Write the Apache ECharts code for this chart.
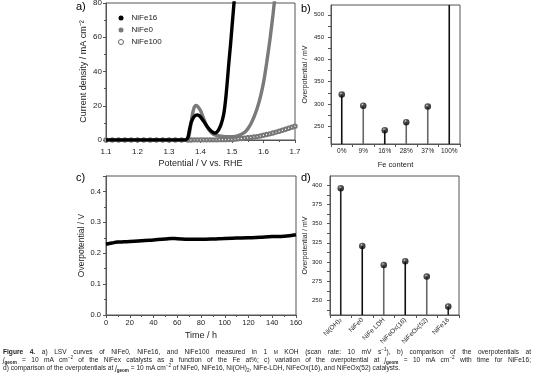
<!DOCTYPE html>
<html><head><meta charset="utf-8">
<script src="https://cdn.jsdelivr.net/npm/echarts@6/dist/echarts.min.js"></script>
<style>
html,body{margin:0;padding:0;background:#fff;}
#chart{position:absolute;left:0;top:0;width:536px;height:389px;}
.cap{position:absolute;left:3px;width:528px;font-family:'Liberation Sans',Arial,sans-serif;font-size:6.6px;line-height:7px;color:#222;white-space:nowrap;}
.j{text-align:justify;text-align-last:justify;white-space:normal;}
.cap sub,.cap sup{font-size:70%;line-height:0;}
</style></head><body>
<div id="chart"></div>
<div class="cap j" style="top:348px"><b>Figure 4.</b> a) LSV curves of NiFe0, NiFe16, and NiFe100 measured in 1 <span style="font-size:75%">M</span> KOH (scan rate: 10 mV s<sup>−1</sup>), b) comparison of the overpotentials at</div>
<div class="cap j" style="top:356px"><i>j</i><sub><b>geom</b></sub> = 10 mA cm<sup>−2</sup> of the NiFex catalysts as a function of the Fe at%; c) variation of the overpotential at <i>j</i><sub><b>geom</b></sub> = 10 mA cm<sup>−2</sup> with time for NiFe16;</div>
<div class="cap" style="top:364px">d) comparison of the overpotentials at <i>j</i><sub><b>geom</b></sub> = 10 mA cm<sup>−2</sup> of NiFe0, NiFe16, Ni(OH)<sub>2</sub>, NiFe-LDH, NiFeOx(16), and NiFeOx(52) catalysts.</div>
<script>
// ---- Panel a: LSV curves [potential V, current density mA cm-2]
const lsvNiFe16 = [[1.10,0],[1.20,0],[1.30,0],[1.35,0],[1.355,0.3],[1.36,1.5],[1.365,6],[1.37,10],[1.375,12.3],[1.38,13.7],[1.385,14.4],[1.39,14.6],[1.395,14.3],[1.40,13.5],[1.41,11],[1.42,8.2],[1.43,5.9],[1.44,4.4],[1.445,4.1],[1.45,4.3],[1.455,5.2],[1.46,6.8],[1.465,9],[1.47,12],[1.475,16.5],[1.48,24],[1.485,34],[1.49,45],[1.495,55],[1.50,66],[1.505,77],[1.51,88]];
const lsvNiFe0 = [[1.10,0],[1.20,0],[1.30,0],[1.35,0],[1.36,0.5],[1.365,4],[1.37,10],[1.375,15.5],[1.38,19],[1.385,20.2],[1.39,19.8],[1.40,17.2],[1.41,12.5],[1.42,8],[1.43,5.2],[1.44,3.5],[1.45,2.7],[1.46,2.3],[1.48,2.0],[1.50,2.0],[1.52,2.6],[1.54,4.5],[1.55,6.5],[1.56,9.5],[1.57,13.5],[1.58,18.5],[1.59,25],[1.60,33.5],[1.61,45],[1.62,58],[1.63,73],[1.64,90]];
const lsvNiFe100 = [[1.10,0],[1.12,0],[1.14,0],[1.16,0],[1.18,0],[1.20,0],[1.22,0],[1.24,0],[1.26,0],[1.28,0],[1.30,0],[1.32,0],[1.34,0],[1.36,0],[1.37,0],[1.38,0.1],[1.39,0.1],[1.40,0.1],[1.41,0.1],[1.42,0.1],[1.43,0.1],[1.44,0.1],[1.45,0.1],[1.46,0.2],[1.47,0.2],[1.48,0.2],[1.49,0.3],[1.50,0.3],[1.51,0.5],[1.52,0.7],[1.53,0.9],[1.54,1.1],[1.55,1.3],[1.56,1.5],[1.57,1.8],[1.58,2.0],[1.59,2.4],[1.60,2.8],[1.61,3.2],[1.62,3.6],[1.63,4.1],[1.64,4.6],[1.65,5.1],[1.66,5.7],[1.67,6.3],[1.68,6.9],[1.69,7.5],[1.70,8.1]];
const lsvNames = ['NiFe16','NiFe0','NiFe100'];

// ---- Panel b: overpotential vs Fe content
const feContent = ['0%','9%','16%','28%','37%','100%'];
const etaFe = [321,296,241,259,294,560];
const etaFeTicks = [250,300,350,400,450,500];

// ---- Panel c: overpotential vs time
const timeH = [0,5,10,15,20,30,40,50,55,60,70,80,90,100,110,120,130,140,150,160];
const etaTime = [0.229,0.233,0.236,0.237,0.238,0.240,0.243,0.246,0.248,0.247,0.245,0.245,0.246,0.248,0.249,0.250,0.252,0.254,0.255,0.260];

// ---- Panel d: overpotential of catalysts
const catalysts = ['Ni(OH)2','NiFe0','NiFe LDH','NiFeOx(16)','NiFeOx(52)','NiFe16'];
const etaCat = [396,321,296,301,281,242];
const etaCatTicks = [250,275,300,325,350,375,400];

const stemColorsB = ['#111','#666','#111','#666','#666','#111'];
const stemColorsD = ['#222','#111','#666','#111','#666','#222'];

const FONT = "'Liberation Sans', Arial, sans-serif";
const TXT = '#222';
const AX = '#555';

function ball(){ return {type:'radial',x:0.38,y:0.32,r:0.7,colorStops:[{offset:0,color:'#e8e8e8'},{offset:0.22,color:'#444'},{offset:0.6,color:'#111'},{offset:1,color:'#000'}]}; }

function axisBase(fs){
  return {
    axisLine:{show:true,onZero:false,lineStyle:{color:AX,width:1}},
    axisTick:{show:true,length:3,lineStyle:{color:AX}},
    splitLine:{show:false},
    axisLabel:{color:TXT,fontFamily:FONT,fontSize:fs},
    nameTextStyle:{color:TXT,fontFamily:FONT}
  };
}

const chart = echarts.init(document.getElementById('chart'), null, {renderer:'canvas'});

const grids = [
  {left:106,top:3,width:189,height:137},
  {left:331,top:5,width:129,height:139},
  {left:106,top:176,width:190,height:139},
  {left:330,top:176,width:129,height:139}
].map(g=>Object.assign({show:true,borderColor:AX,borderWidth:1,backgroundColor:'transparent',outerBoundsMode:'none'},g));

const xa = Object.assign(axisBase(8),{
  gridIndex:0,type:'value',min:1.1,max:1.7,interval:0.1,
  name:'Potential / V vs. RHE',nameLocation:'middle',nameGap:19,
  minorTick:{show:true,splitNumber:2,length:2,lineStyle:{color:AX}}
});
xa.axisLabel.formatter = v=>v.toFixed(1); xa.axisLabel.margin=8; xa.nameTextStyle.fontSize=9;
const ya = Object.assign(axisBase(8),{
  gridIndex:0,type:'value',min:0,max:80,interval:20,
  name:'Current density / mA cm⁻²',nameLocation:'middle',nameGap:18,
  minorTick:{show:true,splitNumber:2,length:2,lineStyle:{color:AX}}
});
ya.axisLabel.margin=4; ya.nameTextStyle.fontSize=9;

const xb = Object.assign(axisBase(6.5),{
  gridIndex:1,type:'category',data:feContent,boundaryGap:true,
  name:'Fe content',nameLocation:'middle',nameGap:17
});
xb.axisLabel.margin=4; xb.axisLabel.interval=0; xb.nameTextStyle.fontSize=7.5;
const yb = Object.assign(axisBase(6),{
  gridIndex:1,type:'value',min:210,max:522,
  name:'Overpotential / mV',nameLocation:'middle',nameGap:22
});
yb.axisLabel.customValues = etaFeTicks; yb.axisLabel.margin=7;
yb.axisTick.customValues = [225,250,275,300,325,350,375,400,425,450,475,500];
yb.nameTextStyle.fontSize=7;

const xc = Object.assign(axisBase(7.5),{
  gridIndex:2,type:'value',min:0,max:160,interval:20,
  name:'Time / h',nameLocation:'middle',nameGap:16,
  minorTick:{show:true,splitNumber:2,length:2,lineStyle:{color:AX}}
});
xc.axisLabel.margin=4; xc.nameTextStyle.fontSize=9;
const yc = Object.assign(axisBase(7.5),{
  gridIndex:2,type:'value',min:0,max:0.45,interval:0.1,
  name:'Overpotential / V',nameLocation:'middle',nameGap:20,
  minorTick:{show:true,splitNumber:2,length:2,lineStyle:{color:AX}}
});
yc.axisLabel.formatter = v=>v.toFixed(1); yc.axisLabel.margin=5; yc.axisLabel.showMaxLabel=false; yc.nameTextStyle.fontSize=8.5;

const xd = Object.assign(axisBase(6.5),{
  gridIndex:3,type:'category',data:catalysts,boundaryGap:true
});
xd.axisLabel.rotate=45; xd.axisLabel.margin=4; xd.axisLabel.interval=0;
xd.axisLabel.formatter = v=> v==='Ni(OH)2' ? 'Ni(OH){s|2}' : v;
xd.axisLabel.rich = {s:{fontSize:4.5,fontFamily:FONT,color:TXT,verticalAlign:'bottom'}};
const yd = Object.assign(axisBase(6),{
  gridIndex:3,type:'value',min:231,max:412,
  name:'Overpotential / mV',nameLocation:'middle',nameGap:21.5
});
yd.axisLabel.customValues = etaCatTicks; yd.axisLabel.margin=8;
yd.axisTick.customValues = [237.5,250,262.5,275,287.5,300,312.5,325,337.5,350,362.5,375,387.5,400];
yd.nameTextStyle.fontSize=7;

const option = {
  animation:false,
  backgroundColor:'#fff',
  textStyle:{fontFamily:FONT},
  grid:grids,
  xAxis:[xa,xb,xc,xd],
  yAxis:[ya,yb,yc,yd],
  legend:{
    data:[{name:'NiFe16',icon:'circle'},{name:'NiFe0',icon:'circle'},
          {name:'NiFe100',icon:'circle',itemStyle:{color:'#fff',borderColor:'#666',borderWidth:1}}],
    orient:'vertical',left:113,top:9,itemWidth:5,itemHeight:5,itemGap:4,
    textStyle:{fontSize:8,fontFamily:FONT,color:TXT,padding:[0,0,0,3]}
  },
  graphic:[
    {type:'text',left:76,top:1,style:{text:'a)',fontSize:11,fontFamily:FONT,fill:'#000'}},
    {type:'text',left:301,top:3,style:{text:'b)',fontSize:11,fontFamily:FONT,fill:'#000'}},
    {type:'text',left:76,top:172,style:{text:'c)',fontSize:11,fontFamily:FONT,fill:'#000'}},
    {type:'text',left:301,top:172,style:{text:'d)',fontSize:11,fontFamily:FONT,fill:'#000'}}
  ],
  series:[
    {name:lsvNames[1],type:'line',xAxisIndex:0,yAxisIndex:0,data:lsvNiFe0,smooth:0.3,showSymbol:false,z:2,
      lineStyle:{color:'#7a7a7a',width:3.4},itemStyle:{color:'#7a7a7a'},clip:true},
    {name:lsvNames[2],type:'line',xAxisIndex:0,yAxisIndex:0,data:lsvNiFe100,symbol:'emptyCircle',symbolSize:3.4,showSymbol:true,showAllSymbol:true,z:3,
      lineStyle:{width:0,opacity:0},itemStyle:{color:'#777',borderWidth:0.9},clip:true},
    {name:lsvNames[0],type:'line',xAxisIndex:0,yAxisIndex:0,data:lsvNiFe16,smooth:0.3,showSymbol:false,z:4,
      lineStyle:{color:'#000',width:3.4},itemStyle:{color:'#000'},clip:true},

    {type:'bar',xAxisIndex:1,yAxisIndex:1,barWidth:1.6,clip:true,
      data:etaFe.map((v,i)=>({value:v,itemStyle:{color:stemColorsB[i]}}))},
    {type:'scatter',xAxisIndex:1,yAxisIndex:1,data:etaFe,symbolSize:6.5,clip:true,z:5,
      itemStyle:{color:ball()}},

    {type:'line',xAxisIndex:2,yAxisIndex:2,data:timeH.map((t,i)=>[t,etaTime[i]]),smooth:0.4,showSymbol:false,
      lineStyle:{color:'#000',width:3.5}},

    {type:'bar',xAxisIndex:3,yAxisIndex:3,barWidth:1.6,clip:true,
      data:etaCat.map((v,i)=>({value:v,itemStyle:{color:stemColorsD[i]}}))},
    {type:'scatter',xAxisIndex:3,yAxisIndex:3,data:etaCat,symbolSize:6.5,clip:true,z:5,
      itemStyle:{color:ball()}}
  ]
};
chart.setOption(option);
</script>
</body></html>
